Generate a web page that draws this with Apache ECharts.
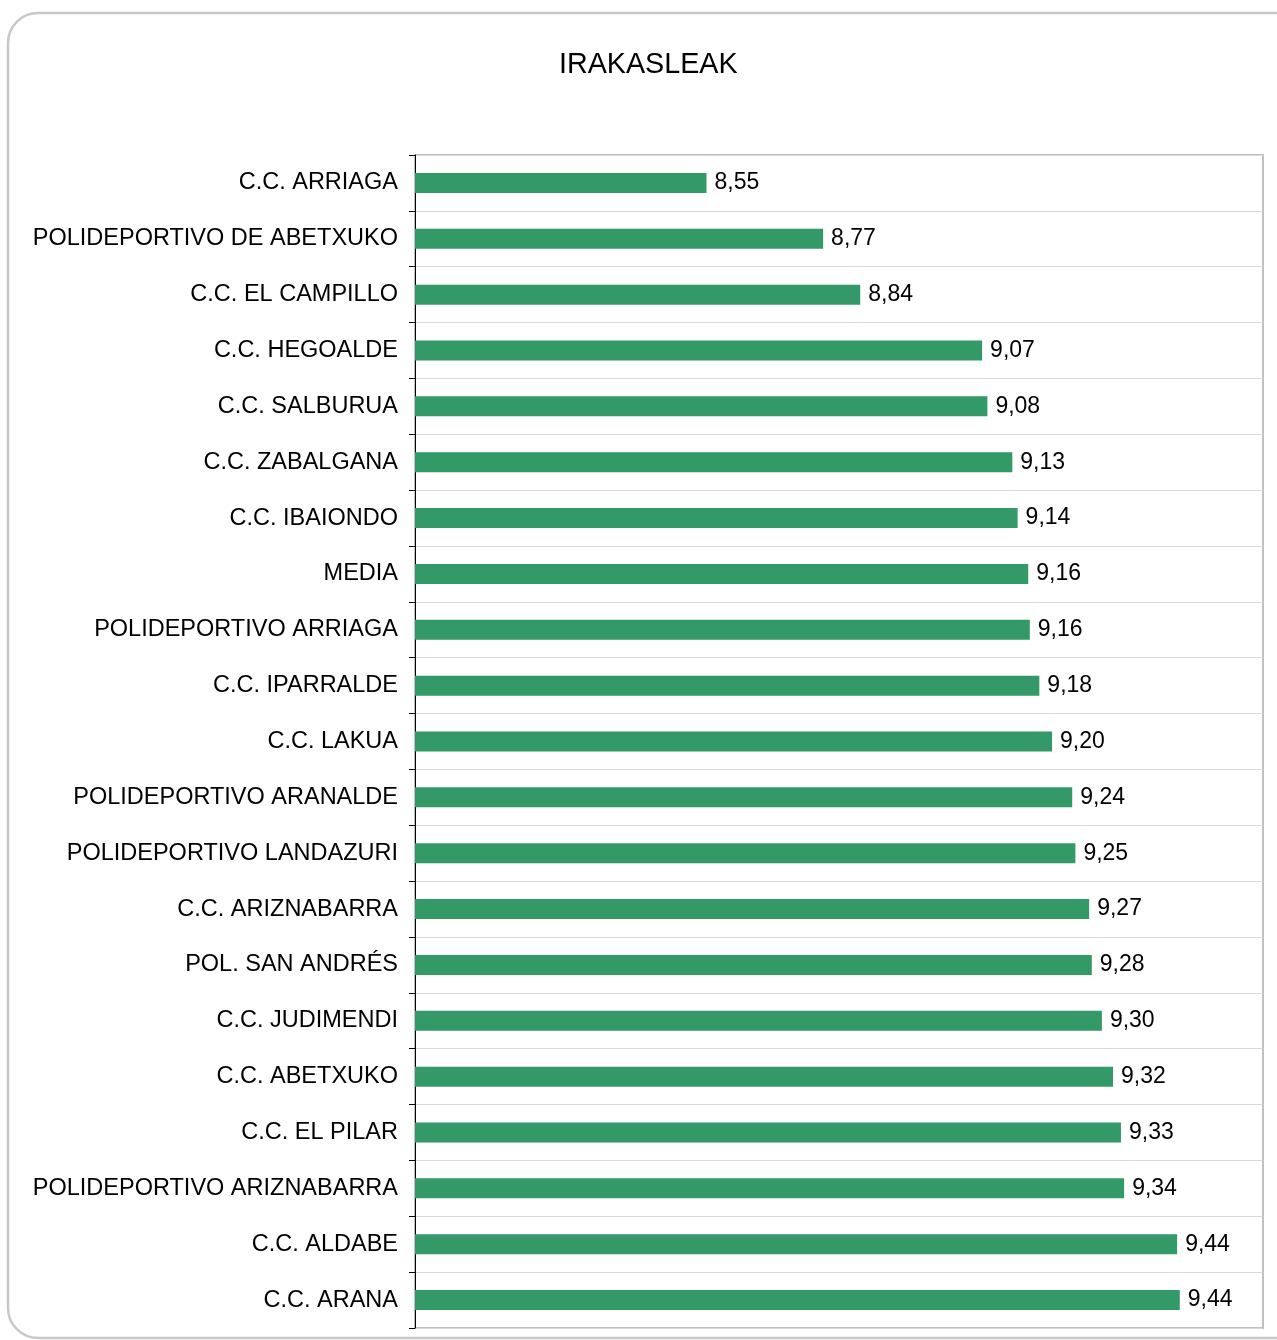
<!DOCTYPE html>
<html>
<head>
<meta charset="utf-8">
<script src="https://cdn.jsdelivr.net/npm/echarts@6/dist/echarts.min.js"></script>
<style>
  html, body { margin: 0; padding: 0; background: #fff; }
  #chart { width: 1277px; height: 1340px; }
</style>
</head>
<body>
<div id="chart"></div>
<script>
// datos
var centros = [
    'C.C. ARRIAGA', 'POLIDEPORTIVO DE ABETXUKO', 'C.C. EL CAMPILLO', 'C.C. HEGOALDE',
    'C.C. SALBURUA', 'C.C. ZABALGANA', 'C.C. IBAIONDO', 'MEDIA', 'POLIDEPORTIVO ARRIAGA',
    'C.C. IPARRALDE', 'C.C. LAKUA', 'POLIDEPORTIVO ARANALDE', 'POLIDEPORTIVO LANDAZURI',
    'C.C. ARIZNABARRA', 'POL. SAN ANDRÉS', 'C.C. JUDIMENDI', 'C.C. ABETXUKO', 'C.C. EL PILAR',
    'POLIDEPORTIVO ARIZNABARRA', 'C.C. ALDABE', 'C.C. ARANA'
];
var notas = [
    8.55, 8.77, 8.84, 9.07,
    9.08, 9.127, 9.137, 9.157, 9.16,
    9.178, 9.202, 9.24, 9.246,
    9.272, 9.277, 9.296, 9.317, 9.332,
    9.338, 9.438, 9.443
];
var ejeMin = 8, ejeMax = 9.6;

var fuente = '"Liberation Sans", Arial, sans-serif';
var myChart = echarts.init(document.getElementById('chart'));

var option = {
    backgroundColor: '#fff',
    animation: false,
    title: {
        text: 'IRAKASLEAK',
        left: 559,
        top: 51,
        padding: 0,
        textStyle: { fontFamily: fuente, fontSize: 28.7, fontWeight: 'normal', color: '#000' }
    },
    graphic: [{
        type: 'rect',
        shape: { x: 8, y: 13, width: 1300, height: 1325, r: 30 },
        style: { fill: 'none', stroke: '#c8c8c8', lineWidth: 2.5 },
        z: -1
    }],
    grid: {
        left: 415, top: 155, right: 14, bottom: 12,
        show: true, borderColor: '#c0c0c0', borderWidth: 2, backgroundColor: 'transparent'
    },
    xAxis: {
        type: 'value',
        min: ejeMin, max: ejeMax,
        axisLine: { show: false }, axisTick: { show: false },
        axisLabel: { show: false }, splitLine: { show: false }
    },
    yAxis: {
        type: 'category',
        data: centros,
        inverse: true,
        axisLine: { show: true, lineStyle: { color: '#000', width: 1 } },
        axisTick: { show: true, length: 6, lineStyle: { color: '#000' } },
        axisLabel: { margin: 17, fontFamily: fuente, fontSize: 23.5, color: '#000' },
        splitLine: { show: true, lineStyle: { color: '#d9d9d9', width: 1 } }
    },
    series: [{
        type: 'bar',
        data: notas,
        barWidth: 20,
        itemStyle: { color: '#339966' },
        label: {
            show: true,
            position: 'right',
            distance: 8,
            fontFamily: fuente, fontSize: 23, color: '#000',
            formatter: function (p) { return p.value.toFixed(2).replace('.', ','); }
        }
    }]
};

myChart.setOption(option);
</script>
</body>
</html>
